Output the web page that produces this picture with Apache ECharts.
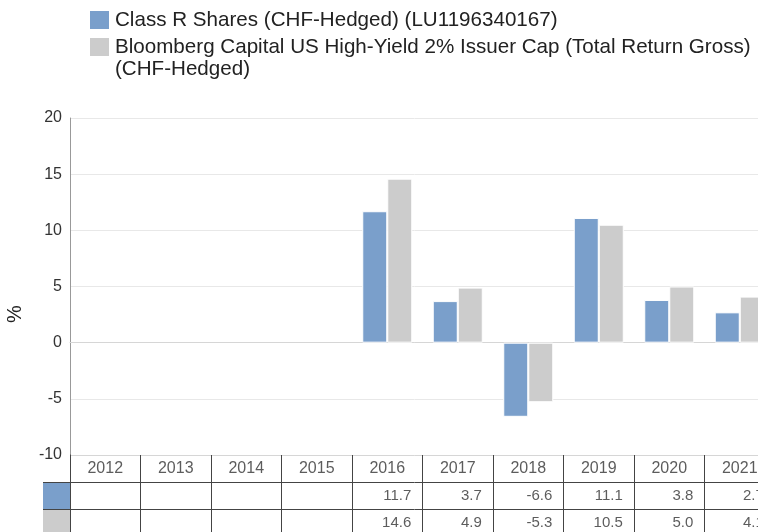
<!DOCTYPE html>
<html>
<head>
<meta charset="utf-8">
<script src="https://cdn.jsdelivr.net/npm/echarts@6/dist/echarts.min.js"></script>
<style>
  html, body { margin: 0; padding: 0; background: #fff; }
  #chart { width: 758px; height: 532px; }
</style>
</head>
<body>
<div id="chart"></div>
<script>
const years = ['2012', '2013', '2014', '2015', '2016', '2017', '2018', '2019', '2020', '2021']
const fundName = 'Class R Shares (CHF-Hedged) (LU1196340167)'
const indexName = 'Bloomberg Capital US High-Yield 2% Issuer Cap (Total Return Gross)'
const indexNameTail = '(CHF-Hedged)'
const fundValues = [null, null, null, null, 11.7, 3.7, -6.6, 11.1, 3.8, 2.7]
const indexValues = [null, null, null, null, 14.6, 4.9, -5.3, 10.5, 5.0, 4.1]
const tableRows = ['year', 'fund', 'index']

const blue = '#7a9fcb'
const grey = '#cccccc'
const font = 'Liberation Sans, Arial, sans-serif'

// table cells built from the series arrays
function cells(values, row) {
  const out = []
  values.forEach((v, i) => {
    if (v !== null) out.push([years[i], row, v])
  })
  return out
}

const chart = echarts.init(document.getElementById('chart'))
chart.setOption({
  animation: false,
  textStyle: { fontFamily: font },
  color: [blue, grey],
  legend: {
    orient: 'vertical',
    left: 88,
    top: 9,
    padding: 0,
    itemWidth: 21,
    itemHeight: 20,
    itemGap: 5,
    icon: 'rect',
    selectedMode: false,
    data: [fundName, indexName],
    textStyle: { fontSize: 20.6, color: '#222' }
  },
  grid: [
    { left: 70, top: 118, width: 705, height: 337, outerBoundsMode: 'none', containLabel: false },
    { left: 70, top: 455, width: 705, height: 82, outerBoundsMode: 'none', containLabel: false }
  ],
  xAxis: [
    {
      type: 'category',
      gridIndex: 0,
      data: years,
      axisLine: { lineStyle: { color: '#d6d6d6' } },
      axisTick: { show: false },
      axisLabel: { show: false }
    },
    {
      type: 'category',
      gridIndex: 1,
      data: years,
      axisLine: { show: false },
      axisTick: { show: false },
      axisLabel: { show: false },
      splitLine: { show: true, interval: 0, lineStyle: { color: '#444', width: 1 } }
    }
  ],
  yAxis: [
    {
      type: 'value',
      gridIndex: 0,
      min: -10,
      max: 20,
      interval: 5,
      name: '%',
      nameLocation: 'middle',
      nameRotate: 90,
      nameGap: 45,
      nameTextStyle: { fontSize: 20, color: '#222', padding: [0, 0, 0, -55] },
      axisLine: { show: true, lineStyle: { color: '#999' } },
      axisTick: { show: false },
      axisLabel: { fontSize: 16, color: '#333', margin: 8 },
      splitLine: { lineStyle: { color: '#e8e8e8' } }
    },
    {
      type: 'category',
      gridIndex: 1,
      inverse: true,
      data: tableRows,
      axisLine: { show: true, lineStyle: { color: '#444' } },
      axisTick: { show: false },
      axisLabel: {
        margin: 0,
        interval: 0,
        formatter: function (v) {
          if (v === 'fund') return '{a|}'
          if (v === 'index') return '{b|}'
          return ''
        },
        rich: {
          a: { width: 27, height: 27, backgroundColor: blue },
          b: { width: 27, height: 27, backgroundColor: grey }
        }
      },
      splitLine: {
        show: true,
        interval: 0,
        lineStyle: { color: ['#d6d6d6', '#444', '#444', '#444'] }
      }
    }
  ],
  graphic: [
    {
      type: 'text',
      left: 115,
      top: 59,
      style: { text: indexNameTail, fontSize: 20.6, fill: '#222', fontFamily: font }
    },
    { type: 'line', shape: { x1: 43, y1: 482.5, x2: 70, y2: 482.5 }, style: { stroke: '#444', lineWidth: 1 }, z: 100 },
    { type: 'line', shape: { x1: 43, y1: 509.5, x2: 70, y2: 509.5 }, style: { stroke: '#444', lineWidth: 1 }, z: 100 }
  ],
  series: [
    {
      name: fundName,
      type: 'bar',
      xAxisIndex: 0,
      yAxisIndex: 0,
      barWidth: 25,
      barGap: 0,
      itemStyle: { borderColor: '#fff', borderWidth: 1 },
      data: fundValues
    },
    {
      name: indexName,
      type: 'bar',
      xAxisIndex: 0,
      yAxisIndex: 0,
      barWidth: 25,
      barGap: 0,
      itemStyle: { borderColor: '#fff', borderWidth: 1 },
      data: indexValues
    },
    {
      type: 'scatter',
      xAxisIndex: 1,
      yAxisIndex: 1,
      symbolSize: 0,
      silent: true,
      data: years.map(y => [y, 'year', y]),
      label: {
        show: true,
        position: 'inside',
        align: 'center',
        fontSize: 16,
        color: '#333',
        formatter: p => p.value[2]
      }
    },
    {
      type: 'scatter',
      xAxisIndex: 1,
      yAxisIndex: 1,
      symbolSize: 0,
      silent: true,
      data: cells(fundValues, 'fund').concat(cells(indexValues, 'index')),
      label: {
        show: true,
        position: 'inside',
        align: 'right',
        offset: [24, 0],
        fontSize: 15,
        color: '#333',
        formatter: p => p.value[2].toFixed(1)
      }
    }
  ]
})
</script>
</body>
</html>
